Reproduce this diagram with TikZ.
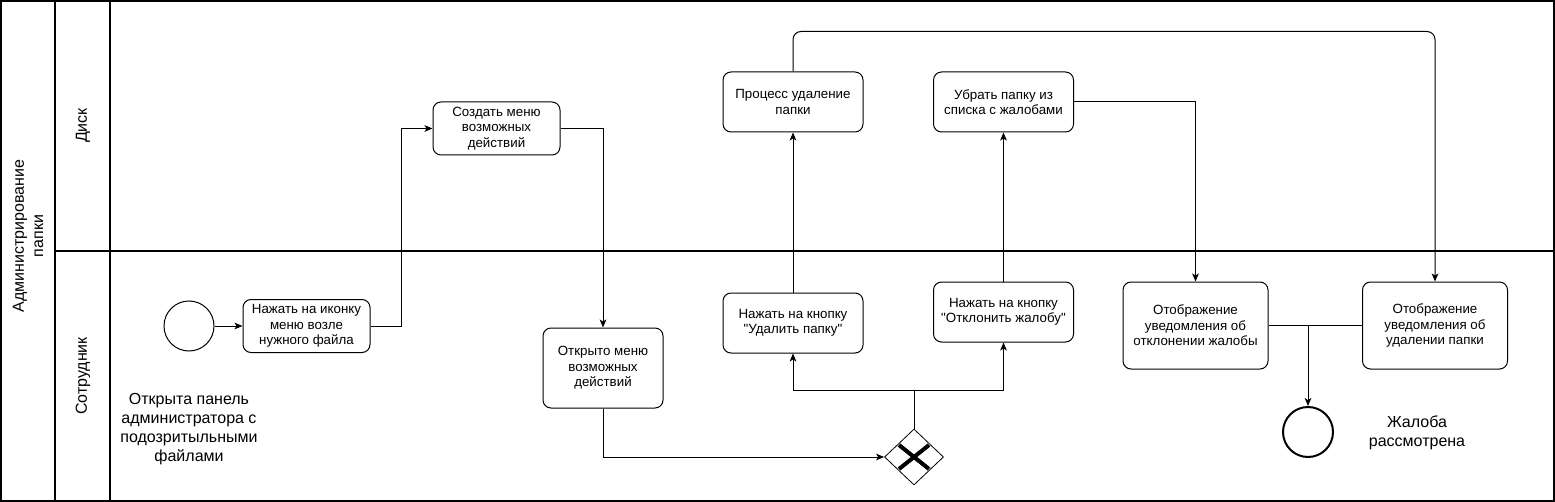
\documentclass[tikz,border=0pt]{standalone}
\usepackage{fontspec}
\setmainfont{Liberation Sans}[Ligatures=TeXOff]
\usetikzlibrary{shapes.geometric,arrows.meta}

\begin{document}
\begin{tikzpicture}[
  x=0.75pt, y=-0.75pt,
  every node/.style={font=\fontsize{10}{11.6}\selectfont},
  lanetext/.style={font=\fontsize{12}{14.4}\selectfont, align=center, rotate=90},
  lane/.style={line width=1.5pt},
  task/.style={draw, line width=0.75pt, rounded corners=6pt, minimum width=105pt, minimum height=45pt, align=center, inner sep=1pt},
  event/.style={draw, circle, line width=0.75pt, minimum size=37.5pt, inner sep=0pt},
  gateway/.style={draw, diamond, line width=0.6pt, minimum width=44.25pt, minimum height=42pt, inner sep=0pt},
  note/.style={font=\fontsize{12}{14.4}\selectfont, align=center},
  flow/.style={->, line width=0.75pt},
  >={Stealth[length=6pt,width=5pt,inset=1.5pt]}
]
\useasboundingbox (0,0) rectangle (1555,502);

% Pool and lanes
\draw[lane] (1,1) rectangle (1554,501);
\draw[lane] (55,1) -- (55,501);
\draw[lane] (110,1) -- (110,501);
\draw[lane] (55,251) -- (1554,251);
\node[lanetext] (pool) at (28,236) {Администрирование\\папки};
\node[lanetext] (disk) at (83,125.5) {Диск};
\node[lanetext] (empl) at (83,376) {Сотрудник};

% Start
\node[event] (st) at (189,326) {};
\node[note] (stl) at (189,429) {Открыта панель\\администратора с\\подозритыльными\\файлами};

% Tasks
\node[task, minimum width=95.25pt, minimum height=39.75pt] (ic) at (306.5,326) {Нажать на иконку\\меню возле\\нужного файла};
\node[task, minimum width=95.25pt, minimum height=39.75pt] (mk) at (496.5,128.5) {Создать меню\\возможных\\действий};
\node[task, minimum width=90pt, minimum height=60pt] (mo) at (603,368) {Открыто меню\\возможных\\действий};
\node[gateway] (gw) at (914,457) {};
\draw[line width=3pt] ([shift={(-15,-12)}]gw.center) -- ([shift={(15,12)}]gw.center);
\draw[line width=3pt] ([shift={(-15,12)}]gw.center) -- ([shift={(15,-12)}]gw.center);

\node[task] (dl) at (793,323) {Нажать на кнопку\\"Удалить папку"};
\node[task] (pd) at (793,102) {Процесс удаление\\папки};
\node[task] (rj) at (1003.5,312) {Нажать на кнопку\\"Отклонить жалобу"};
\node[task] (rm) at (1003.5,102) {Убрать папку из\\списка с жалобами};
\node[task, minimum width=108.75pt, minimum height=65.25pt] (nr) at (1195.5,325.5) {Отображение\\уведомления об\\отклонении жалобы};
\node[task, minimum width=108.75pt, minimum height=65.25pt] (nd) at (1435,325.5) {Отображение\\уведомления об\\удалении папки};

% End
\node[event, line width=1.5pt] (en) at (1308,432) {};
\node[note] (enl) at (1417,433) {Жалоба\\рассмотрена};

% Flows
\draw[flow] (st.east) -- (ic.west);
\draw[flow] (ic.east) -- ++(31,0) |- (mk.west);
\draw[flow] (mk.east) -| (mo.north);
\draw[flow] (mo.south) |- (gw.west);
\draw[flow] (gw.north) -- ++(0,-38) -| (dl.south);
\draw[flow] (gw.north) -- ++(0,-38) -| (rj.south);
\draw[flow] (dl.north) -- (pd.south);
\draw[flow] (rj.north) -- (rm.south);
\draw[flow, rounded corners=6pt] (pd.north) -- ++(0,-40) -| (nd.north);
\draw[flow] (rm.east) -| (nr.north);
\draw[line width=0.75pt] (nr.east) -- (nd.west);
\draw[flow] (en.north |- nr.east) -- (en.north);
\end{tikzpicture}
\end{document}
